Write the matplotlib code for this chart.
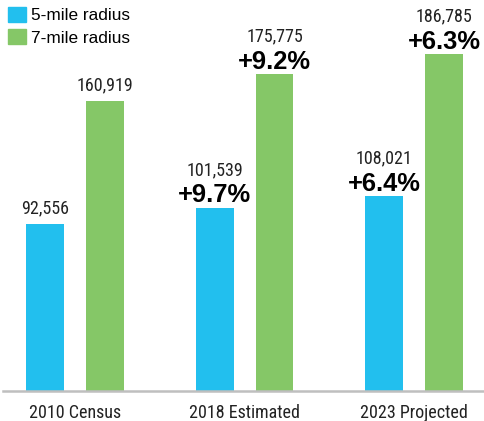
import matplotlib.pyplot as plt
from matplotlib.patches import Patch
import numpy as np

categories = ["2010 Census", "2018 Estimated", "2023 Projected"]
five_mile = [92556, 101539, 108021]
seven_mile = [160919, 175775, 186785]
five_pct = [None, "+9.7%", "+6.4%"]
seven_pct = [None, "+9.2%", "+6.3%"]

blue = "#22BFEE"
green = "#85C767"
narrow = ["Roboto Condensed", "DejaVu Sans"]
arial = ["Liberation Sans", "DejaVu Sans"]

fig = plt.figure(figsize=(4.84, 4.21), dpi=100)
ax = fig.add_axes([3 / 484, 30 / 421, 481 / 484, 391 / 421])

x = np.arange(len(categories))
w = 0.224
off = 0.177
b1 = ax.bar(x - off, five_mile, w, color=blue)
b2 = ax.bar(x + off, seven_mile, w, color=green)

ax.set_xlim(-0.425, 2.413)
ax.set_ylim(0, 217000)

for bars, vals, pcts in [(b1, five_mile, five_pct), (b2, seven_mile, seven_pct)]:
    for rect, v, p in zip(bars, vals, pcts):
        cx = rect.get_x() + rect.get_width() / 2
        top = rect.get_height()
        if p is None:
            ax.annotate(f"{v:,}", (cx, top), xytext=(0, 8), textcoords="offset points",
                        ha="center", va="baseline", fontsize=13, family=narrow, color="#222222")
        else:
            ax.annotate(p, (cx, top), xytext=(0, 4), textcoords="offset points",
                        ha="center", va="baseline", fontsize=18.4, family=arial,
                        fontweight="bold", color="black")
            ax.annotate(f"{v:,}", (cx, top), xytext=(0, 23.5), textcoords="offset points",
                        ha="center", va="baseline", fontsize=13, family=narrow, color="#222222")

for s in ["top", "right", "left"]:
    ax.spines[s].set_visible(False)
ax.spines["bottom"].set_color("#BFBFBF")
ax.spines["bottom"].set_linewidth(1.8)
ax.set_yticks([])
ax.set_xticks(x)
ax.set_xticklabels(categories, fontsize=13, family=narrow, color="#222222")
ax.tick_params(axis="x", length=0, pad=9)

handles = [Patch(color=blue), Patch(color=green)]
fig.legend(handles, ["5-mile radius", "7-mile radius"], loc="upper left",
           bbox_to_anchor=(8 / 484, 1 - 7 / 421), frameon=False,
           prop={"family": arial, "size": 12.4}, handlelength=1.05, handleheight=0.95,
           handletextpad=0.3, labelspacing=0.35, borderpad=0, borderaxespad=0)

fig.savefig("out.png", dpi=100)
